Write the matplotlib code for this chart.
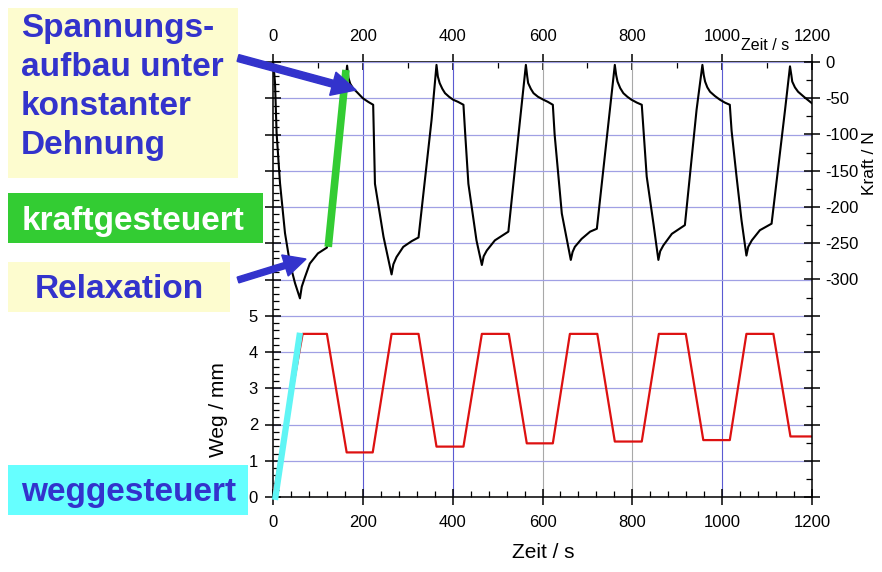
import matplotlib
matplotlib.use('Agg')
import matplotlib.pyplot as plt
from matplotlib.ticker import MultipleLocator, FixedLocator, FixedFormatter
from matplotlib.patches import Rectangle, FancyArrow
from matplotlib.transforms import IdentityTransform

plt.rcParams['font.family'] = ['Liberation Sans', 'DejaVu Sans']
plt.rcParams['axes.unicode_minus'] = False

# ---------------- data ----------------
zeit_kraft = [0, 2, 4.5, 8, 15.6, 26.7, 37.8, 49, 60, 64, 71, 82, 100, 120,
              150, 165, 168, 172, 179, 186, 200, 212, 223,
              227, 246, 264, 268, 275, 290, 309, 324,
              353, 364, 367, 371, 377, 383, 392, 401, 412, 424,
              428, 435, 453, 465, 469, 476, 494, 524,
              550, 563, 566, 568, 574, 580, 590, 602, 612, 623,
              627, 643, 663, 667, 672, 687, 706, 721,
              750, 761, 764, 767, 773, 780, 789, 798, 810, 821,
              825, 832, 847, 858, 862, 869, 888, 917,
              943, 956, 959, 962, 967, 973, 984, 995, 1006, 1017,
              1021, 1032, 1043, 1054, 1058, 1066, 1084, 1110,
              1140, 1151, 1154, 1156, 1162, 1169, 1182, 1196, 1200]
kraft = [0, -10, -29, -98, -167, -236, -278, -305, -326, -310, -297, -278, -264, -256,
         -90, -5, -22, -30, -37, -41, -50, -55, -59,
         -168, -241, -293, -279, -269, -255, -247, -242,
         -80, -4, -20, -29, -37, -43, -48, -52, -55, -59,
         -100, -168, -246, -280, -268, -260, -246, -234,
         -80, -4, -20, -29, -37, -43, -48, -52, -55, -59,
         -100, -209, -273, -262, -255, -244, -234, -230,
         -66, -4, -18, -27, -36, -43, -48, -52, -56, -59,
         -95, -158, -223, -273, -261, -253, -237, -225,
         -66, -4, -18, -27, -35, -41, -47, -52, -56, -59,
         -95, -158, -218, -267, -255, -246, -232, -223,
         -66, -6, -18, -27, -35, -41, -48, -55, -57]

zeit_weg = [0, 66, 120, 164, 222, 264, 324, 364, 424, 465, 525, 565, 623,
            661, 722, 761, 821, 859, 919, 958, 1017, 1054, 1114, 1152, 1200]
weg = [0, 4.5, 4.5, 1.23, 1.23, 4.5, 4.5, 1.39, 1.39, 4.5, 4.5, 1.48, 1.48,
       4.5, 4.5, 1.53, 1.53, 4.5, 4.5, 1.57, 1.57, 4.5, 4.5, 1.67, 1.67]

# annotation strokes (time, value)
gruen_zeit = [123, 162.5]
gruen_kraft = [-255, -11]
cyan_zeit = [4.5, 60]
cyan_weg = [-0.08, 4.53]

x_ticks = [0, 200, 400, 600, 800, 1000, 1200]
x_tick_labels = ['0', '200', '400', '600', '800', '1000', '1200']
weg_ticks = list(range(0, 13))
weg_labels = ['0', '1', '2', '3', '4', '5'] + [''] * 7
kraft_ticks = list(range(0, -601, -50))
kraft_labels = ['0', '-50', '-100', '-150', '-200', '-250', '-300'] + [''] * 6
vgrid_pos = [200, 400, 600, 800, 1000]
vgrid_col = ['#5a5ad2', '#5a5ad2', '#a8a8a8', '#a8a8a8', '#5a5ad2']

# ---------------- figure ----------------
W, H = 882, 572
fig = plt.figure(figsize=(W / 100, H / 100), dpi=100)
fig.patch.set_facecolor('white')
L, R, T, B = 273, 812, 62, 497
ax = fig.add_axes([L / W, 1 - B / H, (R - L) / W, (B - T) / H])
ax2 = ax.twinx()

ax.set_xlim(0, 1200)
ax.set_ylim(0, 12)
ax2.set_ylim(-600, 0)

# grid
ax.set_axisbelow(True)
ax.grid(axis='y', which='major', color='#a0a0e4', lw=0.9)
for xv, c in zip(vgrid_pos, vgrid_col):
    ax.axvline(xv, color=c, lw=0.8, zorder=0.5)

# data
ax.plot(zeit_weg, weg, color='#dd1111', lw=1.6, zorder=3)
ax2.plot(zeit_kraft, kraft, color='black', lw=1.5, zorder=3)
ax2.plot(gruen_zeit, gruen_kraft, color='#33cc33', lw=5.5, zorder=4,
         solid_capstyle='butt')
ax.plot(cyan_zeit, cyan_weg, color='#5ff5f5', lw=4.5, zorder=4,
        solid_capstyle='butt', clip_on=False)

# spines
for s in ['top', 'right']:
    ax.spines[s].set_visible(False)
for s in ['top', 'left', 'bottom']:
    ax2.spines[s].set_visible(False)
ax.spines['left'].set_linewidth(1.1)
ax.spines['bottom'].set_linewidth(1.1)
ax2.spines['right'].set_linewidth(1.1)

# bottom / left ticks
ax.xaxis.set_major_locator(FixedLocator(x_ticks))
ax.xaxis.set_major_formatter(FixedFormatter(x_tick_labels))
ax.xaxis.set_minor_locator(MultipleLocator(40))
ax.yaxis.set_major_locator(FixedLocator(weg_ticks))
ax.yaxis.set_major_formatter(FixedFormatter(weg_labels))
ax.yaxis.set_minor_locator(MultipleLocator(0.2))
ax.tick_params(axis='x', which='major', direction='inout', length=11, width=1.1,
               labelsize=12, pad=7.5)
ax.tick_params(axis='y', which='major', direction='inout', length=11, width=1.1,
               labelsize=12, pad=5.3)
ax.tick_params(axis='both', which='minor', direction='in', length=4.5, width=0.9)

# right ticks
ax2.yaxis.set_major_locator(FixedLocator(kraft_ticks))
ax2.yaxis.set_major_formatter(FixedFormatter(kraft_labels))
ax2.yaxis.set_minor_locator(MultipleLocator(25))
ax2.tick_params(axis='y', which='major', direction='inout', length=11, width=1.1,
                labelsize=12, pad=3.9)
ax2.tick_params(axis='y', which='minor', direction='in', length=4.5, width=0.9)

# top axis
secax = ax.secondary_xaxis('top')
secax.xaxis.set_major_locator(FixedLocator(x_ticks))
secax.xaxis.set_major_formatter(FixedFormatter(x_tick_labels))
secax.xaxis.set_minor_locator(MultipleLocator(100))
secax.spines['top'].set_linewidth(1.1)
secax.tick_params(axis='x', which='major', direction='inout', length=11, width=1.1,
                  labelsize=12, pad=7.3)
secax.tick_params(axis='x', which='minor', direction='in', length=4.5, width=0.9)

# axis labels
ax.set_xlabel('Zeit / s', fontsize=15)
ax.xaxis.set_label_coords((543 - L) / (R - L), (B - 553) / (B - T))
ax.xaxis.label.set_va('center')
ax.set_ylabel('Weg / mm', fontsize=15)
ax.yaxis.set_label_coords((218 - L) / (R - L), (B - 410) / (B - T))
ax.yaxis.label.set_va('center')
ax2.set_ylabel('Kraft / N', fontsize=12.5)
ax2.yaxis.set_label_coords((870 - L) / (R - L), (B - 163) / (B - T))
ax2.yaxis.label.set_va('center')
ax.text((765 - L) / (R - L), (B - 46) / (B - T), 'Zeit / s', fontsize=11.5,
        transform=ax.transAxes, ha='center', va='center')

# ---------------- annotation boxes (pixel layout) ----------------
idt = IdentityTransform()
blue = '#3333cc'


def box(x0, y0, x1, y1, color):
    fig.add_artist(Rectangle((x0, H - y1), x1 - x0, y1 - y0, transform=idt,
                             facecolor=color, edgecolor='none', zorder=1))


def label(x, y_base, s, color):
    fig.text(x, H - y_base, s, transform=idt, ha='left', va='baseline',
             fontsize=24, fontweight='bold', color=color, zorder=2)


box(8, 8, 238, 178, '#fdfccf')
for s, yb in zip(['Spannungs-', 'aufbau unter', 'konstanter', 'Dehnung'],
                 [37, 76, 115, 154]):
    label(21, yb, s, blue)

box(8, 193, 263, 243, '#33cc33')
label(22, 230, 'kraftgesteuert', 'white')

box(8, 262, 230, 312, '#fdfccf')
label(35, 297.5, 'Relaxation', blue)

box(8, 465, 248, 515, '#66ffff')
label(21, 501.5, 'weggesteuert', blue)

# arrows
fig.add_artist(FancyArrow(238, H - 58, 118, -32, width=7, head_width=24,
                          head_length=24, length_includes_head=True,
                          transform=idt, color=blue, zorder=5))
fig.add_artist(FancyArrow(238, H - 280, 68, 21, width=6, head_width=22,
                          head_length=22, length_includes_head=True,
                          transform=idt, color=blue, zorder=5))

fig.savefig('out.png', dpi=100)
